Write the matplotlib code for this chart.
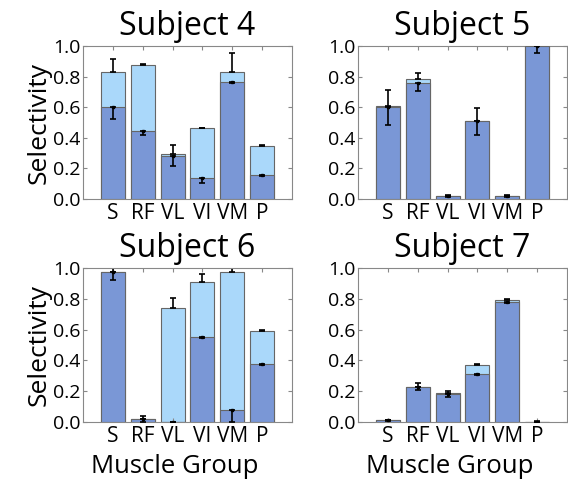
import matplotlib
matplotlib.use('Agg')
import matplotlib.pyplot as plt
import numpy as np

plt.rcParams['font.family'] = ['Open Sans', 'DejaVu Sans']

muscles = ['S', 'RF', 'VL', 'VI', 'VM', 'P']
subjects = ['Subject 4', 'Subject 5', 'Subject 6', 'Subject 7']

# light (total) bars and upper errors
s4_light = [0.832, 0.876, 0.292, 0.462, 0.832, 0.349]
s4_light_err = [0.083, 0.006, 0.061, 0.005, 0.124, 0.003]
s4_dark = [0.603, 0.444, 0.281, 0.139, 0.762, 0.155]
s4_dark_err = [0.082, 0.026, 0.065, 0.032, 0.005, 0.005]

s5_light = [0.608, 0.784, 0.020, 0.512, 0.020, 1.0]
s5_light_err = [0.104, 0.037, 0.008, 0.081, 0.005, 0.04]
s5_dark = [0.601, 0.756, 0.018, 0.510, 0.018, 1.0]
s5_dark_err = [0.117, 0.048, 0.008, 0.092, 0.005, 0.048]

s6_light = [0.972, 0.017, 0.738, 0.911, 0.972, 0.591]
s6_light_err = [0.03, 0.025, 0.065, 0.05, 0.03, 0.005]
s6_dark = [0.972, 0.017, 0.002, 0.550, 0.078, 0.377]
s6_dark_err = [0.05, 0.017, 0.002, 0.005, 0.078, 0.005]

s7_light = [0.011, 0.229, 0.186, 0.370, 0.792, 0.0]
s7_light_err = [0.003, 0.022, 0.015, 0.005, 0.008, 0.006]
s7_dark = [0.010, 0.225, 0.182, 0.312, 0.781, 0.0]
s7_dark_err = [0.003, 0.017, 0.022, 0.005, 0.008, 0.0]

light_vals = [s4_light, s5_light, s6_light, s7_light]
light_errs = [s4_light_err, s5_light_err, s6_light_err, s7_light_err]
dark_vals = [s4_dark, s5_dark, s6_dark, s7_dark]
dark_errs = [s4_dark_err, s5_dark_err, s6_dark_err, s7_dark_err]

DARK = '#7a97d6'
LIGHT = '#aad8fa'
EDGE = '#666666'

fig = plt.figure(figsize=(5.68, 4.79), dpi=100)
W, H = 568, 479
boxes = [(83, 46, 292, 199), (358, 46, 567, 199),
         (83, 268, 292, 422), (358, 268, 567, 422)]

x = np.arange(len(muscles))
for i, (l, t, r, b) in enumerate(boxes):
    ax = fig.add_axes([l / W, 1 - b / H, (r - l) / W, (b - t) / H])
    lv = np.array(light_vals[i]); le = np.array(light_errs[i])
    dv = np.array(dark_vals[i]); de = np.array(dark_errs[i])
    ax.bar(x, lv, width=0.8, color=LIGHT, edgecolor=EDGE, linewidth=0.8, zorder=1)
    ax.errorbar(x, lv, yerr=[np.zeros_like(le), le], fmt='none', ecolor='black',
                elinewidth=1.2, capsize=2, capthick=1.2, zorder=2)
    ax.bar(x, dv, width=0.8, color=DARK, edgecolor=EDGE, linewidth=0.8, zorder=3)
    ax.errorbar(x, dv, yerr=[de, np.zeros_like(de)], fmt='s', color='black',
                markersize=2, elinewidth=1.2, capsize=2, capthick=1.2, zorder=4)
    ax.set_xlim(-1, 6)
    ax.set_ylim(0, 1.0)
    ax.set_yticks([0.0, 0.2, 0.4, 0.6, 0.8, 1.0])
    ax.set_yticklabels(['0.0', '0.2', '0.4', '0.6', '0.8', '1.0'], fontsize=14)
    ax.set_xticks(x)
    ax.set_xticklabels(muscles, fontsize=15)
    ax.tick_params(direction='in', top=True, right=True, length=3, color='#888888')
    ax.tick_params(axis='x', pad=3)
    ax.tick_params(axis='y', pad=2)
    for sp in ax.spines.values():
        sp.set_color('#888888')
    ax.set_title(subjects[i], fontsize=23, pad=8)
    if i % 2 == 0:
        ax.set_ylabel('Selectivity', fontsize=19, labelpad=1)
    if i >= 2:
        ax.set_xlabel('Muscle Group', fontsize=18.5)
        ax.xaxis.set_label_coords(0.44, -0.205)

fig.savefig('out.png', dpi=100)
